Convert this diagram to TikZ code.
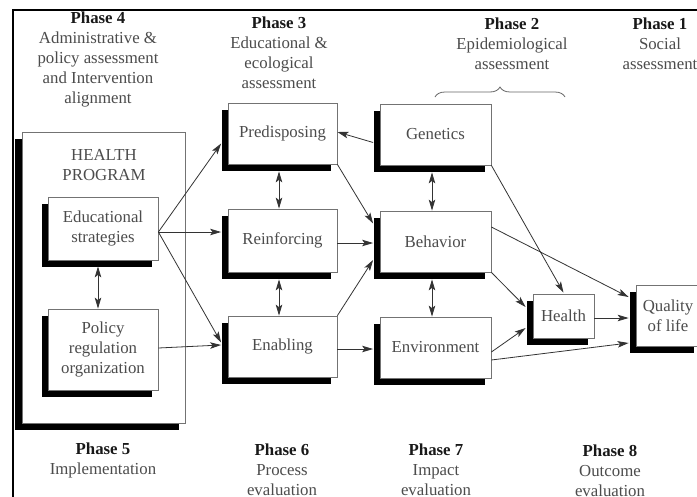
\documentclass[tikz,border=0pt]{standalone}
\usepackage{fontspec}
\setmainfont{Liberation Serif}
\usetikzlibrary{shadows,arrows.meta,decorations.pathreplacing}
\newcommand\dfont{\fontsize{16.8}{20}\selectfont}
\newcommand\ph[1]{\textcolor{black!90}{\textbf{#1}}}

\begin{document}
\begin{tikzpicture}[x=1pt,y=-1pt,
  box/.style={draw=black!55, line width=0.8pt, fill=white, inner sep=0pt,
    align=center, font=\dfont, text=black!70,
    general shadow={fill=black, shadow xshift=-6.5pt, shadow yshift=-7pt}},
  tip/.tip={Stealth[length=11pt,width=6.5pt,inset=2.5pt]},
  arr/.style={draw=black!80, line width=0.8pt, -tip},
  darr/.style={draw=black!80, line width=0.8pt, tip-tip},
  phase/.style={align=center, font=\dfont, text=black!70, inner sep=0pt}
]
\useasboundingbox (0,0) rectangle (697,496);
\clip (0,0) rectangle (697,496);
\fill[white] (0,0) rectangle (697,496);

% frame along the top and the left
\coordinate (fTR) at (705,10);
\coordinate (fTL) at (13,10);
\coordinate (fBL) at (13,505);
\draw[line width=1.8pt] (fTR) -- (fTL) -- (fBL);

% phase headings
\node[phase] (p4) at (98,59.5) {\ph{Phase 4}\\Administrative \&\\policy assessment\\and Intervention\\alignment};
\node[phase] (p3) at (279,53) {\ph{Phase 3}\\Educational \&\\ecological\\assessment};
\node[phase] (p2) at (512,43.5) {\ph{Phase 2}\\Epidemiological\\assessment};
\node[phase] (p1) at (660,43.5) {\ph{Phase 1}\\Social\\assessment};
\node[phase] (p5) at (103,460) {\ph{Phase 5}\\Implementation};
\node[phase] (p6) at (282,469.5) {\ph{Phase 6}\\Process\\evaluation};
\node[phase] (p7) at (436,469.5) {\ph{Phase 7}\\Impact\\evaluation};
\node[phase] (p8) at (610,471) {\ph{Phase 8}\\Outcome\\evaluation};

% brace over the epidemiological column
\coordinate (brL) at (435,97);
\coordinate (brR) at (565,97);
\draw[black!60, line width=0.8pt, decorate, decoration={brace, amplitude=10pt}] (brL) -- (brR);

% health program
\node[box, minimum width=163pt, minimum height=291pt,
  general shadow={fill=black, shadow xshift=-7.5pt, shadow yshift=-7pt}] (hp) at (103.5,277.5) {};
\node[phase] (hpl) at (104,165) {HEALTH\\PROGRAM};
\node[box, minimum width=110pt, minimum height=63pt] (ed) at (103,228.5) {Educational\\strategies};
\node[box, minimum width=110pt, minimum height=81pt] (pol) at (103,349.5) {Policy\\regulation\\organization};

% educational and ecological column
\node[box, minimum width=109pt, minimum height=61pt] (pre) at (282.5,133.5) {Predisposing};
\node[box, minimum width=109pt, minimum height=63pt] (rei) at (282.5,240.5) {Reinforcing};
\node[box, minimum width=109pt, minimum height=61pt] (ena) at (282.5,346.5) {Enabling};

% epidemiological column
\node[box, minimum width=111pt, minimum height=61pt] (gen) at (435.5,134.5) {Genetics};
\node[box, minimum width=111pt, minimum height=61pt] (beh) at (435.5,241.5) {Behavior};
\node[box, minimum width=111pt, minimum height=61pt] (env) at (435.5,347.5) {Environment};

% outcomes
\node[box, minimum width=61pt, minimum height=44pt] (hea) at (563.5,316) {Health};
\node[box, minimum width=64pt, minimum height=61pt] (qua) at (668,315.5) {Quality\\of life};

% program to determinants
\draw[arr] ([yshift=-3.5pt]ed.east) -- ([xshift=-6.5pt,yshift=-10pt]pre.west);
\draw[arr] ([yshift=-3.5pt]ed.east) -- ([xshift=-6.5pt,yshift=8.5pt]rei.west);
\draw[arr] ([yshift=-3.5pt]ed.east) -- ([xshift=-6.5pt,yshift=4pt]ena.west);
\draw[arr] ([yshift=1.5pt]pol.east) -- ([xshift=-6.5pt,yshift=1.5pt]ena.west);
\draw[darr] ([xshift=-5pt,yshift=-6pt]ed.south) -- ([xshift=-5pt]pol.north);

% among the determinants
\draw[darr] ([xshift=-3.5pt,yshift=-7pt]pre.south) -- ([xshift=-3.5pt]rei.north);
\draw[darr] ([xshift=-3.5pt,yshift=-7pt]rei.south) -- ([xshift=-3.5pt]ena.north);
\draw[darr] ([xshift=-3.5pt,yshift=-7pt]gen.south) -- ([xshift=-3.5pt]beh.north);
\draw[darr] ([xshift=-3.5pt,yshift=-7pt]beh.south) -- ([xshift=-3.5pt]env.north);

\draw[arr] ([xshift=-6.5pt,yshift=-8pt]gen.west) -- ([yshift=1.5pt]pre.east);
\draw[arr] (pre.south east) -- ([xshift=-6.5pt,yshift=18pt]beh.west);
\draw[arr] ([yshift=-2.5pt]rei.east) -- ([xshift=-6.5pt,yshift=-1.5pt]beh.west);
\draw[arr] (ena.north east) -- ([xshift=-6.5pt,yshift=-18.5pt]beh.west);
\draw[arr] ([yshift=-2.5pt]ena.east) -- ([xshift=-6.5pt,yshift=-1.5pt]env.west);

% to health and quality of life
\draw[arr] (gen.south east) -- ([yshift=1pt]hea.north);
\draw[arr] ([yshift=14.5pt]beh.east) -- ([xshift=-7pt,yshift=18.5pt]qua.west);
\draw[arr] (beh.south east) -- ([xshift=-7pt,yshift=9pt]hea.west);
\draw[arr] ([yshift=-4.5pt]env.east) -- ([xshift=-7pt,yshift=-12pt]hea.west);
\draw[arr] ([yshift=-2pt]hea.east) -- ([xshift=-7pt,yshift=-2.5pt]qua.west);
\draw[arr] ([yshift=-12.5pt]env.east) -- ([xshift=-7pt,yshift=-27.5pt]qua.west);
\end{tikzpicture}
\end{document}
